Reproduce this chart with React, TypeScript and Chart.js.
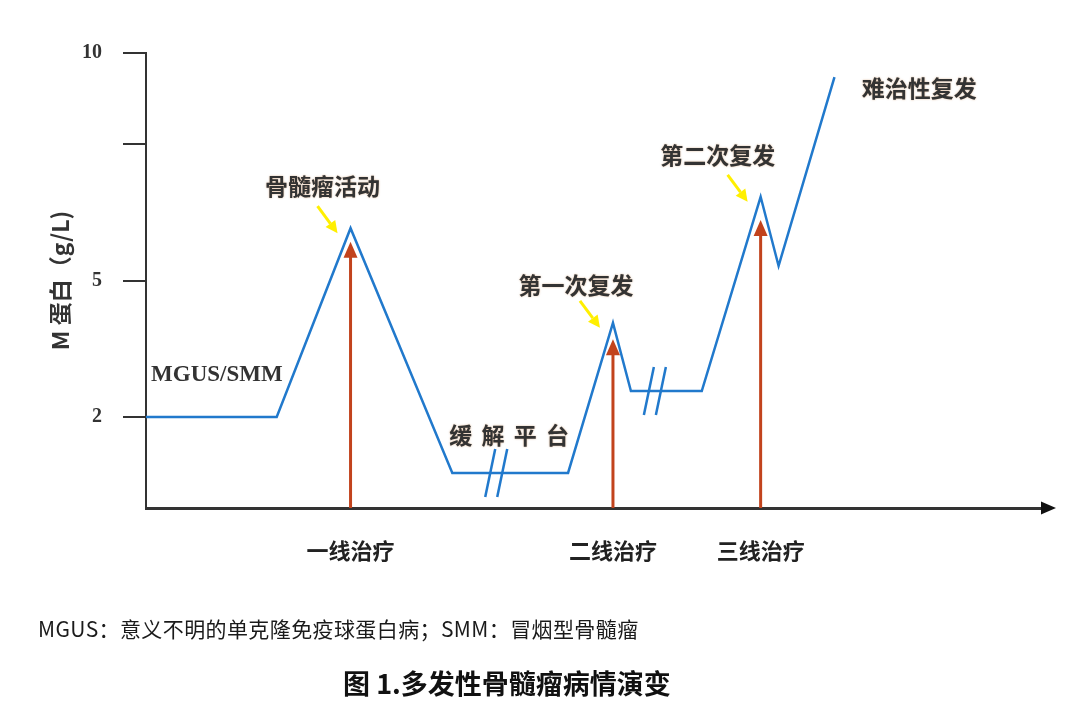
import React, { useEffect, useRef } from 'react';
import { Chart, registerables } from 'chart.js';

Chart.register(...registerables);

// ---- data ----
const timePoints = [0, 13.1, 20.5, 30.7, 42.3, 46.8, 48.6, 55.7, 61.6, 63.4, 69.0];
const mProteinValues = [2, 2, 6.15, 0.77, 0.77, 4.07, 2.57, 2.57, 6.84, 5.32, 9.47];
const yTickValues = [2, 5, 8, 10];
const yTickLabels = ['2', '5', '', '10'];
const treatmentTimes = [20.5, 46.8, 61.6];
const treatmentLabels = ['一线治疗', '二线治疗', '三线治疗'];
const treatmentArrowTops = [5.85, 3.71, 6.33];
const peakIndices = [2, 5, 8];
const breakTimes = [35.1, 51.0];
const breakValues = [0.77, 2.57];
const annotationTexts = ['MGUS/SMM', '骨髓瘤活动', '缓 解 平 台', '第一次复发', '第二次复发', '难治性复发'];
const annotationTimes = [7.1, 17.7, 36.5, 43.1, 57.3, 77.5];
const annotationValues = [2.92, 7.08, 1.6, 4.9, 7.76, 9.23];
const footnoteText = 'MGUS：意义不明的单克隆免疫球蛋白病；SMM：冒烟型骨髓瘤';
const captionText = '图 1.多发性骨髓瘤病情演变';
const yAxisTitle = 'M 蛋白（g/L)';

// ---- styles ----
const BLUE = '#2179cc';
const RED = '#c2431d';
const YELLOW = '#ffef00';
const AXIS = '#333333';
const CJK = '"Noto Sans CJK SC", "Noto Sans", sans-serif';
const SERIF = '"Liberation Serif", "DejaVu Serif", serif';

const overlayPlugin = {
  id: 'overlay',
  beforeDatasetsDraw(chart: any) {
    const { ctx, scales } = chart;
    const x = scales.x;
    const y = scales.y;
    ctx.save();
    treatmentTimes.forEach((t, i) => {
      const px = x.getPixelForValue(t);
      const y0 = y.getPixelForValue(0);
      const yt = y.getPixelForValue(treatmentArrowTops[i]);
      ctx.strokeStyle = RED;
      ctx.lineWidth = 3;
      ctx.beginPath();
      ctx.moveTo(px, y0);
      ctx.lineTo(px, yt + 12);
      ctx.stroke();
      ctx.fillStyle = RED;
      ctx.beginPath();
      ctx.moveTo(px, yt);
      ctx.lineTo(px - 7, yt + 16);
      ctx.lineTo(px + 7, yt + 16);
      ctx.closePath();
      ctx.fill();
    });
    ctx.restore();
  },
  afterDatasetsDraw(chart: any) {
    const { ctx, scales, chartArea } = chart;
    const x = scales.x;
    const y = scales.y;
    ctx.save();
    // break marks
    ctx.strokeStyle = BLUE;
    ctx.lineWidth = 2.5;
    breakTimes.forEach((t, i) => {
      const cx = x.getPixelForValue(t);
      const cy = y.getPixelForValue(breakValues[i]);
      [-6, 6].forEach((off) => {
        ctx.beginPath();
        ctx.moveTo(cx + off - 5, cy + 24);
        ctx.lineTo(cx + off + 5, cy - 24);
        ctx.stroke();
      });
    });
    // yellow arrows
    peakIndices.forEach((idx) => {
      const px = x.getPixelForValue(timePoints[idx]);
      const py = y.getPixelForValue(mProteinValues[idx]);
      const sx = px - 33, sy = py - 22;
      const tx = px - 13, ty = py + 5;
      const ang = Math.atan2(ty - sy, tx - sx);
      const hl = 12, hw = 6;
      const bx = tx - hl * Math.cos(ang), by = ty - hl * Math.sin(ang);
      ctx.strokeStyle = YELLOW;
      ctx.lineWidth = 3;
      ctx.beginPath();
      ctx.moveTo(sx, sy);
      ctx.lineTo(bx, by);
      ctx.stroke();
      ctx.fillStyle = YELLOW;
      ctx.beginPath();
      ctx.moveTo(tx, ty);
      ctx.lineTo(bx + hw * Math.sin(ang), by - hw * Math.cos(ang));
      ctx.lineTo(bx - hw * Math.sin(ang), by + hw * Math.cos(ang));
      ctx.closePath();
      ctx.fill();
    });
    // x axis arrowhead
    const ay = y.getPixelForValue(0);
    ctx.fillStyle = '#111';
    ctx.beginPath();
    ctx.moveTo(chartArea.right + 12, ay);
    ctx.lineTo(chartArea.right - 3, ay - 6.5);
    ctx.lineTo(chartArea.right - 3, ay + 6.5);
    ctx.closePath();
    ctx.fill();
    // annotations
    ctx.textAlign = 'center';
    ctx.textBaseline = 'middle';
    annotationTexts.forEach((txt, i) => {
      const px = x.getPixelForValue(annotationTimes[i]);
      const py = y.getPixelForValue(annotationValues[i]);
      if (i === 0) {
        ctx.font = `bold 23px ${SERIF}`;
        ctx.shadowBlur = 0;
        ctx.shadowColor = 'transparent';
        (ctx as any).letterSpacing = '0px';
      } else {
        ctx.font = `bold 23px ${CJK}`;
        ctx.shadowColor = 'rgba(190,120,60,0.55)';
        ctx.shadowBlur = 2;
        (ctx as any).letterSpacing = txt.includes(' ') ? '2px' : '0px';
      }
      ctx.fillStyle = '#333';
      ctx.fillText(txt, px, py);
    });
    ctx.restore();
  },
};

export default function App() {
  const canvasRef = useRef<HTMLCanvasElement | null>(null);

  useEffect(() => {
    const canvas = canvasRef.current;
    if (!canvas) return;
    const chart = new Chart(canvas, {
      type: 'line',
      data: {
        datasets: [
          {
            data: timePoints.map((t, i) => ({ x: t, y: mProteinValues[i] })),
            borderColor: BLUE,
            borderWidth: 2.5,
            pointRadius: 0,
            tension: 0,
            fill: false,
          },
        ],
      },
      options: {
        responsive: false,
        animation: false,
        devicePixelRatio: 1,
        layout: { padding: { top: 53, left: 0, right: 36, bottom: 134 } },
        plugins: { legend: { display: false }, tooltip: { enabled: false } },
        scales: {
          x: {
            type: 'linear',
            min: 0,
            max: 90,
            afterBuildTicks: (s: any) => {
              s.ticks = treatmentTimes.map((v) => ({ value: v }));
            },
            afterFit: (s: any) => {
              s.height = 70;
            },
            ticks: {
              autoSkip: false,
              maxRotation: 0,
              padding: 29,
              color: '#222',
              font: { family: CJK, size: 22, weight: 'bold' },
              callback: (_v: any, i: number) => treatmentLabels[i],
            },
            grid: { display: false, drawTicks: false },
            border: { display: true, color: AXIS, width: 3 },
          },
          y: {
            type: 'linear',
            min: 0,
            max: 10,
            afterBuildTicks: (s: any) => {
              s.ticks = yTickValues.map((v) => ({ value: v }));
            },
            afterFit: (s: any) => {
              s.width = 146;
            },
            ticks: {
              padding: 21,
              color: '#333',
              font: { family: SERIF, size: 20, weight: 'bold' },
              callback: (_v: any, i: number) => yTickLabels[i],
            },
            grid: {
              display: true,
              drawOnChartArea: false,
              drawTicks: true,
              tickLength: 23,
              color: AXIS,
              lineWidth: 2,
            },
            border: { display: true, color: AXIS, width: 2 },
            title: {
              display: true,
              text: yAxisTitle,
              color: '#333',
              font: { family: CJK, size: 23, weight: 'bold' },
              padding: { top: 46, bottom: 0 },
            },
          },
        },
      } as any,
      plugins: [overlayPlugin],
    });
    return () => chart.destroy();
  }, []);

  return (
    <div style={{ position: 'absolute', left: 0, top: 0, width: 1080, height: 712, background: '#fff', overflow: 'hidden' }}>
      <canvas ref={canvasRef} width={1080} height={712} style={{ display: 'block', width: 1080, height: 712 }} />
      <div
        style={{
          position: 'absolute',
          left: 38,
          top: 617,
          fontFamily: CJK,
          fontSize: 21,
          letterSpacing: '0.4px',
          lineHeight: '22px',
          color: '#1a1a1a',
          whiteSpace: 'nowrap',
        }}
      >
        {footnoteText}
      </div>
      <div
        style={{
          position: 'absolute',
          left: 343,
          top: 668,
          fontFamily: CJK,
          fontSize: 27,
          fontWeight: 'bold',
          lineHeight: '30px',
          color: '#111',
          whiteSpace: 'nowrap',
        }}
      >
        {captionText}
      </div>
    </div>
  );
}
